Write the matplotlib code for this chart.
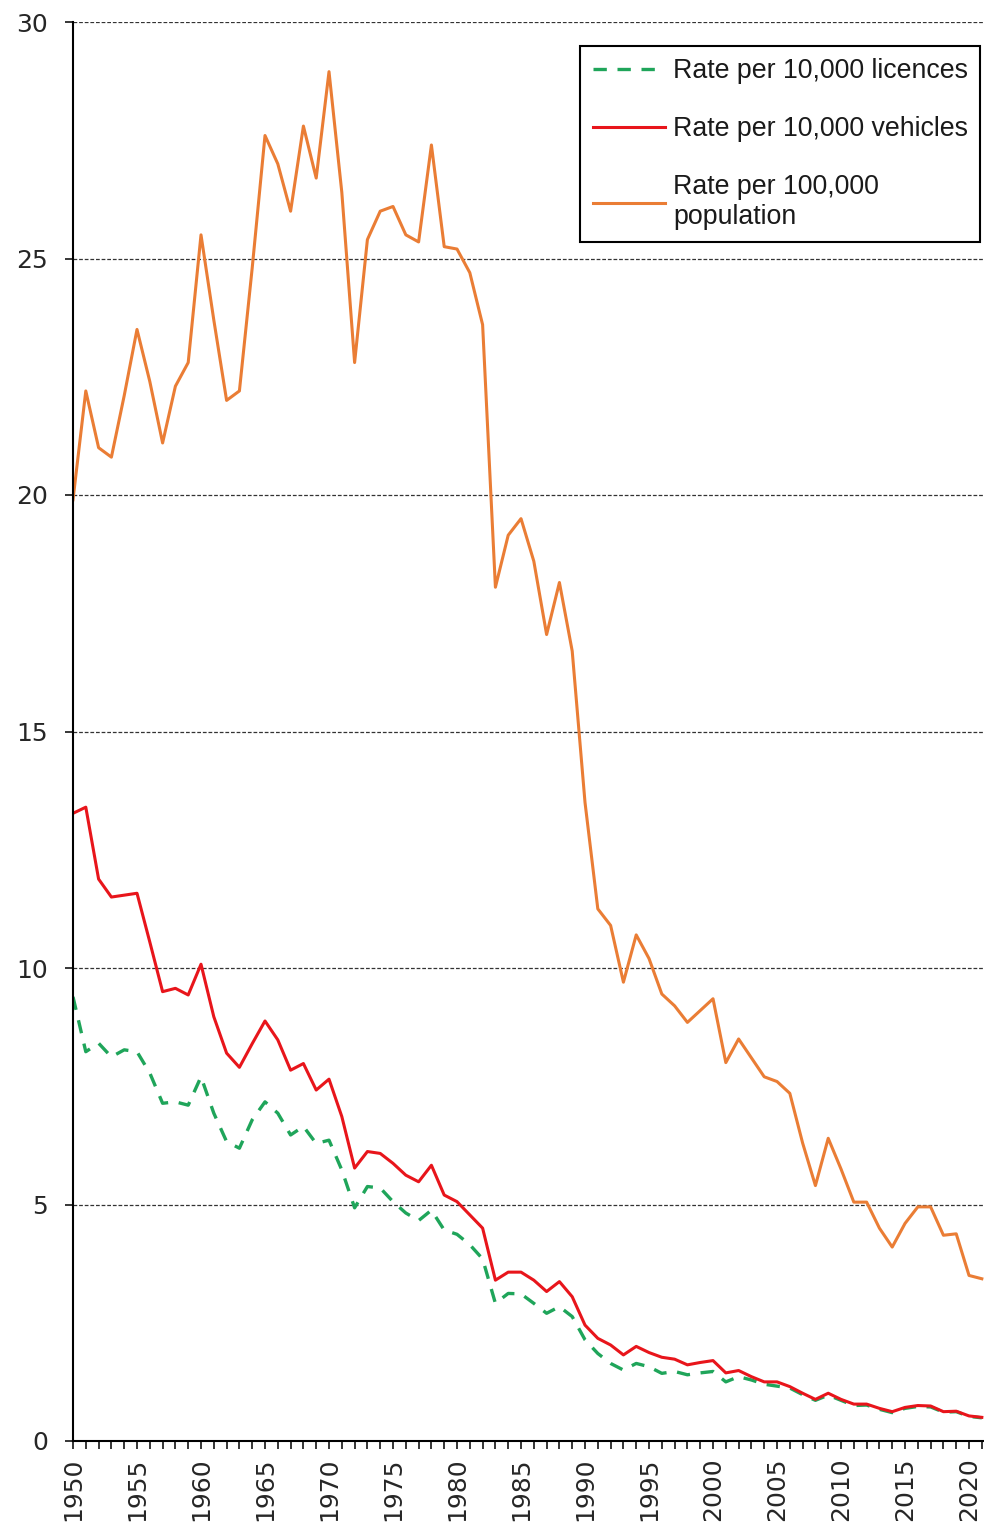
import matplotlib
matplotlib.use("Agg")
import matplotlib.pyplot as plt
from matplotlib.ticker import MultipleLocator

years = list(range(1950, 2022))

# Rate per 100,000 population
rate_population = [
    19.9, 22.2, 21.0, 20.8, 22.1, 23.5, 22.4, 21.1, 22.3, 22.8,
    25.5, 23.7, 22.0, 22.2, 24.8, 27.6, 27.0, 26.0, 27.8, 26.7,
    28.95, 26.4, 22.8, 25.4, 26.0, 26.1, 25.5, 25.35, 27.4, 25.25,
    25.2, 24.7, 23.6, 18.05, 19.15, 19.5, 18.6, 17.05, 18.15, 16.7,
    13.5, 11.25, 10.9, 9.7, 10.7, 10.2, 9.45, 9.2, 8.85, 9.1,
    9.35, 8.0, 8.5, 8.1, 7.7, 7.6, 7.35, 6.3, 5.4, 6.4,
    5.75, 5.05, 5.05, 4.5, 4.1, 4.6, 4.95, 4.95, 4.35, 4.38,
    3.5, 3.43,
]

# Rate per 10,000 vehicles
rate_vehicles = [
    13.27, 13.4, 11.88, 11.5, 11.54, 11.58, 10.55, 9.5, 9.57, 9.43,
    10.08, 8.97, 8.2, 7.9, 8.4, 8.88, 8.48, 7.84, 7.98, 7.42,
    7.65, 6.86, 5.77, 6.12, 6.08, 5.87, 5.62, 5.48, 5.83, 5.2,
    5.06, 4.78, 4.5, 3.4, 3.57, 3.57, 3.4, 3.16, 3.37, 3.05,
    2.45, 2.17, 2.03, 1.82, 2.0, 1.87, 1.77, 1.73, 1.61, 1.66,
    1.7, 1.44, 1.49, 1.36, 1.25, 1.25, 1.15, 1.01, 0.88, 1.01,
    0.88, 0.78, 0.78, 0.69, 0.62, 0.71, 0.75, 0.74, 0.62, 0.63,
    0.53, 0.5,
]

# Rate per 10,000 licences
rate_licences = [
    9.39, 8.23, 8.41, 8.12, 8.27, 8.23, 7.78, 7.14, 7.17, 7.1,
    7.7, 6.93, 6.33, 6.19, 6.79, 7.17, 6.93, 6.47, 6.65, 6.29,
    6.36, 5.73, 4.93, 5.38, 5.35, 5.06, 4.82, 4.66, 4.88, 4.46,
    4.37, 4.15, 3.85, 2.91, 3.12, 3.11, 2.91, 2.7, 2.84, 2.63,
    2.14, 1.85, 1.64, 1.5, 1.64, 1.57, 1.43, 1.47, 1.4, 1.44,
    1.47, 1.25, 1.36, 1.29, 1.2, 1.16, 1.12, 0.98, 0.86, 0.97,
    0.86, 0.75, 0.76, 0.67, 0.6, 0.69, 0.73, 0.72, 0.61, 0.62,
    0.52, 0.49,
]

labels = ["Rate per 10,000 licences", "Rate per 10,000 vehicles",
          "Rate per 100,000\npopulation"]

W, H = 984, 1525
fig = plt.figure(figsize=(W / 100, H / 100), dpi=100)
ax = fig.add_axes([73 / W, (H - 1441) / H, (W - 73) / W, (1441 - 22) / H])

l1, = ax.plot(years, rate_licences, color="#1fa55a", lw=2.4, linestyle=(0, (4, 3.2)))
l2, = ax.plot(years, rate_vehicles, color="#e8151b", lw=2.2)
l3, = ax.plot(years, rate_population, color="#ea7d35", lw=2.2)

ax.set_xlim(1950, 2021.17)
ax.set_ylim(0, 30)
ax.yaxis.set_major_locator(MultipleLocator(5))
ax.xaxis.set_major_locator(MultipleLocator(5))
ax.xaxis.set_minor_locator(MultipleLocator(1))

ax.grid(axis="y", color="#333333", lw=0.9, linestyle=(0, (3, 1.5)))
ax.set_axisbelow(True)

for s in ["top", "right"]:
    ax.spines[s].set_visible(False)
for s in ["left", "bottom"]:
    ax.spines[s].set_linewidth(1.5)
    ax.spines[s].set_color("black")

ax.tick_params(axis="y", direction="out", length=6, width=1.1, pad=12,
               labelsize=18, labelcolor="#262626")
ax.tick_params(axis="x", which="both", direction="out", length=6, width=1.1)
ax.tick_params(axis="x", which="major", pad=6, labelsize=18, labelrotation=90,
               labelcolor="#262626")
for t in ax.get_xticklabels() + ax.get_yticklabels():
    t.set_fontfamily("DejaVu Sans")

leg = ax.legend([l1, l2, l3], labels, loc="upper right",
                bbox_to_anchor=((980 - 73) / (W - 73), (1441 - 46) / (1441 - 22)),
                borderaxespad=0,
                prop={"family": "Liberation Sans", "size": 19.3},
                handlelength=2.7, handletextpad=0.3, labelspacing=1.2,
                borderpad=0.45, fancybox=False, framealpha=1, edgecolor="black")
leg.get_frame().set_linewidth(1.5)
for t in leg.get_texts():
    t.set_color("#1a1a1a")

fig.savefig("out.png", dpi=100)
